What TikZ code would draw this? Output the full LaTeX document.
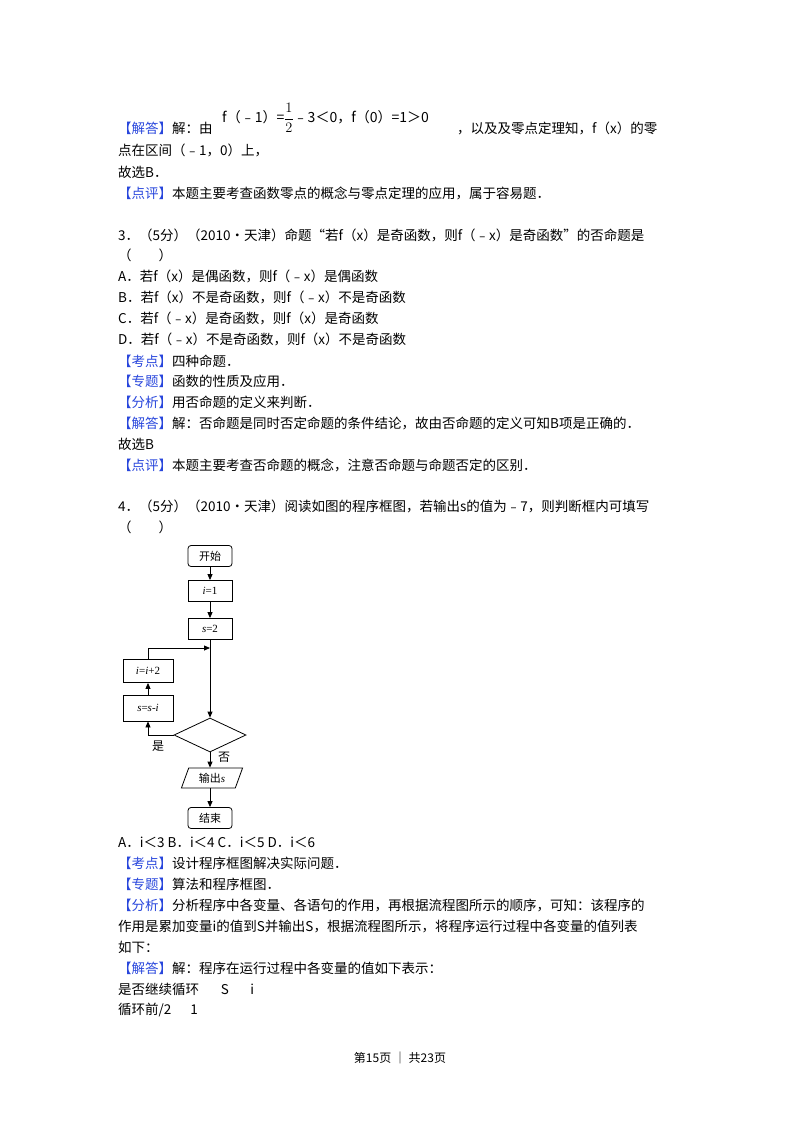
\documentclass[tikz,border=0pt]{standalone}
\usepackage{fontspec}
\setmainfont{Noto Sans CJK SC}
\newfontfamily\lat{Liberation Serif}
\usetikzlibrary{shapes.geometric,arrows.meta}
\definecolor{lb}{RGB}{40,70,220}
\newcommand{\bk}[1]{\textcolor{lb}{【#1】}}
\begin{document}
\begin{tikzpicture}[x=1pt,y=-1pt,
 tl/.style={anchor=west,inner sep=0pt,font=\fontsize{13.5}{15}\selectfont},
 fb/.style={draw,thick,minimum width=44pt,minimum height=21pt,inner sep=1pt,font=\fontsize{11}{13}\selectfont},
 rb/.style={fb,rounded corners=3pt},
 ar/.style={thick,-{Triangle[length=6pt,width=5pt]}},
 ln/.style={thick}]
\useasboundingbox (0,0) rectangle (800,1132);
\node[tl] (t1) at (118,128) {\bk{解答}解：由};
\node[anchor=west,inner sep=0pt,font=\fontsize{14}{16}\selectfont] (f1) at (222,118) {f（﹣1）=$\displaystyle\frac{1}{2}$﹣3＜0，f（0）=1＞0};
\node[tl] (t1b) at (457,128) {，以及及零点定理知，f（x）的零};
\node[tl] (t2) at (118,150) {点在区间（﹣1，0）上，};
\node[tl] (t3) at (118,172) {故选B．};
\node[tl] (t4) at (118,193) {\bk{点评}本题主要考查函数零点的概念与零点定理的应用，属于容易题．};
\node[tl] (q3) at (118,235) {3．（5分）（2010•天津）命题“若f（x）是奇函数，则f（﹣x）是奇函数”的否命题是};
\node[tl] (q3b) at (118,255) {（\hspace{2em}）};
\node[tl] (a) at (118,276) {A．若f（x）是偶函数，则f（﹣x）是偶函数};
\node[tl] (b) at (118,297) {B．若f（x）不是奇函数，则f（﹣x）不是奇函数};
\node[tl] (c) at (118,318) {C．若f（﹣x）是奇函数，则f（x）是奇函数};
\node[tl] (d) at (118,339) {D．若f（﹣x）不是奇函数，则f（x）不是奇函数};
\node[tl] (k1) at (118,361) {\bk{考点}四种命题．};
\node[tl] (k2) at (118,381) {\bk{专题}函数的性质及应用．};
\node[tl] (k3) at (118,402) {\bk{分析}用否命题的定义来判断．};
\node[tl] (k4) at (118,423) {\bk{解答}解：否命题是同时否定命题的条件结论，故由否命题的定义可知B项是正确的．};
\node[tl] (k5) at (118,444) {故选B};
\node[tl] (k6) at (118,465) {\bk{点评}本题主要考查否命题的概念，注意否命题与命题否定的区别．};
\node[tl] (q4) at (118,506) {4．（5分）（2010•天津）阅读如图的程序框图，若输出s的值为﹣7，则判断框内可填写};
\node[tl] (q4b) at (118,527) {（\hspace{2em}）};
% flowchart
\node[rb] (st) at (210,556) {开始};
\node[fb] (i1) at (210,591) {\lat\textit{i}=1};
\node[fb] (s2) at (210,629) {\lat\textit{s}=2};
\node[fb,minimum width=50pt,minimum height=23pt] (ii) at (148,671) {\lat\textit{i}=\textit{i}+2};
\node[fb,minimum width=50pt,minimum height=26pt] (ss) at (148,708) {\lat\textit{s}=\textit{s}-\textit{i}};
\node[draw,thick,diamond,aspect=2.1,minimum width=72pt,minimum height=34pt,inner sep=0pt] (dm) at (210,735) {};
\node[draw,thick,trapezium,trapezium left angle=70,trapezium right angle=110,minimum width=56pt,minimum height=20pt,inner sep=1pt,font=\fontsize{11}{13}\selectfont] (out) at (212,778) {输出\lat\textit{s}};
\node[rb] (en) at (210,818) {结束};
\node[font=\fontsize{12}{14}\selectfont] (yes) at (158,746) {是};
\node[font=\fontsize{12}{14}\selectfont] (no) at (224,757) {否};
\coordinate (j) at (210,648);
\coordinate (jl) at (148,648);
\draw[ar] (st) -- (i1);
\draw[ar] (i1) -- (s2);
\draw[ar] (s2) -- (dm.north);
\draw[ar] (dm.south) -- (dm.south|-out.north);
\draw[ar] (dm.south|-out.south) -- (en);
\draw[ar] (dm.west) -| (ss.south);
\draw[ar] (ss) -- (ii);
\draw[ln] (ii.north) -- (jl);
\draw[ar] (jl) -- (j);
% after
\node[tl] (o) at (118,842) {A．i＜3 B．i＜4 C．i＜5 D．i＜6};
\node[tl] (m1) at (118,863) {\bk{考点}设计程序框图解决实际问题．};
\node[tl] (m2) at (118,884) {\bk{专题}算法和程序框图．};
\node[tl] (m3) at (118,905) {\bk{分析}分析程序中各变量、各语句的作用，再根据流程图所示的顺序，可知：该程序的};
\node[tl] (m4) at (118,926) {作用是累加变量i的值到S并输出S，根据流程图所示，将程序运行过程中各变量的值列表};
\node[tl] (m5) at (118,947) {如下：};
\node[tl] (m6) at (118,968) {\bk{解答}解：程序在运行过程中各变量的值如下表示：};
\node[tl] (m7) at (118,989) {是否继续循环\hspace{1.6em}S\hspace{1.6em}i};
\node[tl] (m8) at (118,1010) {循环前/2\hspace{1.4em}1};
\node[inner sep=0pt,font=\fontsize{12}{14}\selectfont] (ft) at (400,1058) {第15页 ｜ 共23页};
\end{tikzpicture}
\end{document}
